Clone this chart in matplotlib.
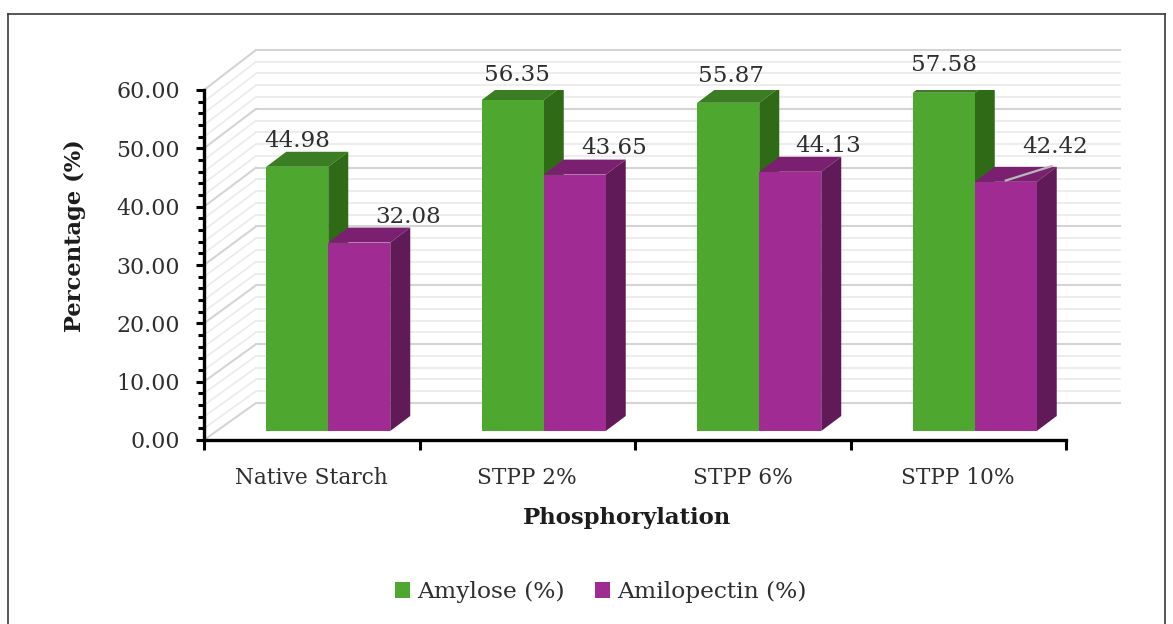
import matplotlib
matplotlib.use("Agg")
import matplotlib.pyplot as plt
from matplotlib.patches import Polygon, Patch, Rectangle
from matplotlib.lines import Line2D

categories = ["Native Starch", "STPP 2%", "STPP 6%", "STPP 10%"]
amylose = [44.98, 56.35, 55.87, 57.58]
amilopectin = [32.08, 43.65, 44.13, 42.42]
value_ticks = [0, 10, 20, 30, 40, 50, 60]
series_names = ["Amylose (%)", "Amilopectin (%)"]
x_title = "Phosphorylation"
y_title = "Percentage (%)"

W, H = 1173, 624
FONT = "DejaVu Serif"
TXT = "#2e2e2e"
fig = plt.figure(figsize=(W / 100, H / 100), dpi=100, facecolor="white")
L, R, T, B = 204, 1066, 90, 440
ax = fig.add_axes([L / W, 1 - B / H, (R - L) / W, (B - T) / H])
ax.set_xlim(0, 4)
ax.set_ylim(0, 60)
ax.patch.set_alpha(0)
px_x = 4 / (R - L)
px_y = 60 / (B - T)

# wall (back + side) gridlines; the walls sit deeper and are drawn slightly larger
wall_dx, wall_dy = 52 * px_x, 37 * px_y
wall_scale = 1.0087
for v in range(0, 62, 2):
    major = v % 10 == 0
    c = "#d4d4d4" if major else "#ececec"
    lw = 1.5 if major else 1.3
    yw = v * wall_scale + wall_dy
    ax.plot([wall_dx, 4 + 54 * px_x], [yw, yw], color=c, lw=lw, zorder=1, clip_on=False)
    ax.plot([0, wall_dx], [v, yw], color=c, lw=lw, zorder=1, clip_on=False)

# bars
base = 9 * px_y
bar_scale = 1.007
bw = 62 * px_x
shift = 16.5 * px_x
dx, dy = 20 * px_x, 15 * px_y
GREEN = ("#4ea72e", "#3a7d22", "#2f6a17")
PURPLE = ("#a02b93", "#7b2070", "#611a58")


def bar3d(x0, v, cols, z):
    front, top, side = cols
    h = v * bar_scale
    y1 = base + h
    ax.add_patch(Rectangle((x0, base), bw, h, fc=front, ec="none", zorder=z + 0.2))
    ax.add_patch(Polygon([(x0, y1), (x0 + dx, y1 + dy), (x0 + bw + dx, y1 + dy), (x0 + bw, y1)],
                         fc=top, ec="none", zorder=z))
    ax.add_patch(Polygon([(x0 + bw, base), (x0 + bw + dx, base + dy), (x0 + bw + dx, y1 + dy), (x0 + bw, y1)],
                         fc=side, ec="none", zorder=z + 0.1))


# pixel offsets of each value label from its bar's front top centre
green_off = [(0, 26), (4, 25), (3, 27), (0, 28)]
purple_off = [(49, 26), (39, 27), (38, 26), (49, 35)]
for i in range(4):
    cx = i + 0.5 + shift
    bar3d(cx - bw, amylose[i], GREEN, 3)
    bar3d(cx, amilopectin[i], PURPLE, 4)
    for val, off, xc in ((amylose[i], green_off[i], cx - bw / 2), (amilopectin[i], purple_off[i], cx + bw / 2)):
        ax.text(xc + off[0] * px_x, base + val * bar_scale + off[1] * px_y, f"{val:.2f}", family=FONT,
                fontsize=16.6, color=TXT, ha="center", va="center", zorder=6)

# leader line of the last label
lx = 3.5 + shift
ytop = base + amilopectin[3] * bar_scale
ax.plot([lx + 30 * px_x, lx + 78 * px_x], [ytop + 1 * px_y, ytop + 16 * px_y],
        color="#b9b9b9", lw=1.6, zorder=6, solid_capstyle="butt")

# axes
for s in ("top", "right"):
    ax.spines[s].set_visible(False)
for s in ("left", "bottom"):
    ax.spines[s].set_linewidth(2.4)
    ax.spines[s].set_color("black")
    ax.spines[s].set_zorder(7)
ax.set_xticks(range(5))
ax.set_xticklabels([""] * 5)
ax.set_xticks([i + 0.5 for i in range(4)], minor=True)
ax.set_xticklabels(categories, minor=True, family=FONT, fontsize=15.6, color=TXT)
ax.tick_params(axis="x", which="major", direction="out", length=7, width=2.2, color="black")
ax.tick_params(axis="x", which="minor", length=0, pad=19.5)
ax.set_yticks(value_ticks)
ax.set_yticklabels([f"{v:.2f}" for v in value_ticks], family=FONT, fontsize=15.8, color=TXT)
ax.set_yticks(range(0, 61, 2), minor=True)
ax.tick_params(axis="y", which="major", direction="out", length=6, width=2.2, color="black", pad=11.5)
ax.tick_params(axis="y", which="minor", direction="out", length=4, width=2.2, color="black")

fig.text(75 / W, 1 - 236 / H, y_title, rotation=90, family=FONT, fontsize=16.3, fontweight="bold",
         color="#1c1c1c", ha="center", va="center")
fig.text(627 / W, 1 - 518 / H, x_title, family=FONT, fontsize=16.4, fontweight="bold",
         color="#1c1c1c", ha="center", va="center")

leg = fig.legend(handles=[Patch(fc=GREEN[0], label=series_names[0]), Patch(fc=PURPLE[0], label=series_names[1])],
                 loc="center", bbox_to_anchor=(601 / W, 1 - 592 / H), ncol=2, frameon=False,
                 prop={"family": FONT, "size": 16.8}, handlelength=0.65, handleheight=0.65,
                 handletextpad=0.3, columnspacing=1.3, labelcolor=TXT)

# outer frame
for xs, ys in (([8, 8], [640, 14]), ([8, 1165], [14, 14]), ([1165, 1165], [14, 640])):
    fig.add_artist(Line2D([x / W for x in xs], [1 - y / H for y in ys], color="#3a3a3a", lw=1.2))

fig.savefig("out.png", dpi=100)
